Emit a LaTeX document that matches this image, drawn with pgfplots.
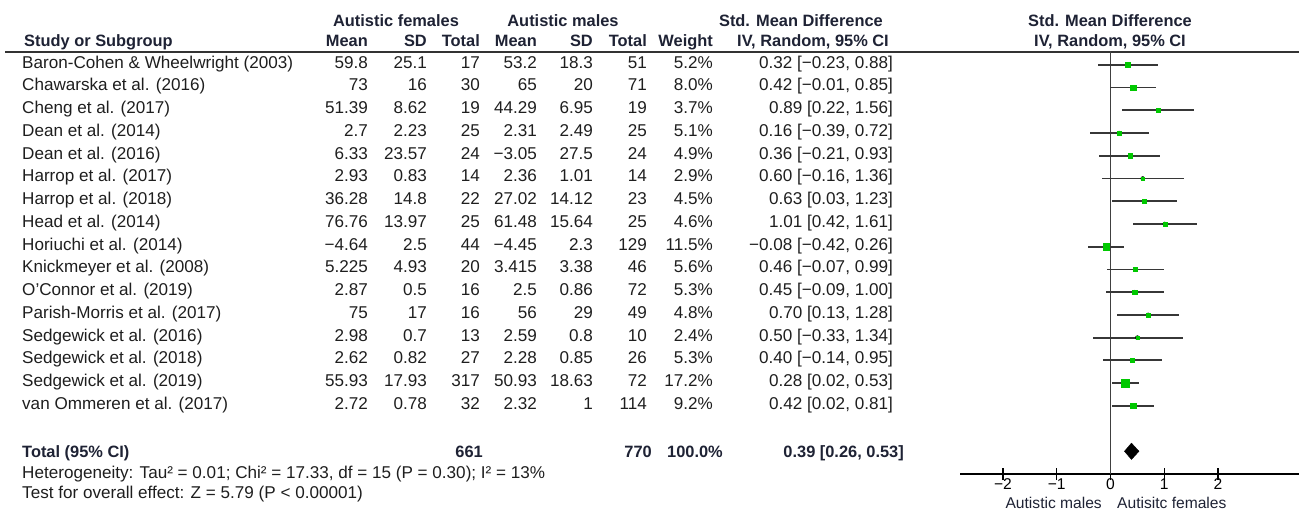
\documentclass[border=0pt]{standalone}
\usepackage{fontspec}
\setmainfont{Liberation Sans}
\usepackage{pgfplots}
\usepackage{pgfplotstable}
\pgfplotsset{compat=1.18}

\definecolor{smdgreen}{RGB}{0,200,0}
\definecolor{txt}{RGB}{30,30,30}
\definecolor{hdr}{RGB}{30,34,52}
\definecolor{cibar}{RGB}{55,55,55}

\newcommand{\fs}{\fontsize{17.1}{19}\selectfont}
\newcommand{\fb}{\fontsize{16.4}{19}\selectfont\bfseries}
\newcommand{\fsm}{\fontsize{15.6}{17}\selectfont}

% row: position from top, SMD, lower, upper, weight (%)
\pgfplotstableread{
row est lo hi w
1 0.32 -0.23 0.88 5.2
2 0.42 -0.01 0.85 8.0
3 0.89 0.22 1.56 3.7
4 0.16 -0.39 0.72 5.1
5 0.36 -0.21 0.93 4.9
6 0.60 -0.16 1.36 2.9
7 0.63 0.03 1.23 4.5
8 1.01 0.42 1.61 4.6
9 -0.08 -0.42 0.26 11.5
10 0.46 -0.07 0.99 5.6
11 0.45 -0.09 1.00 5.3
12 0.70 0.13 1.28 4.8
13 0.50 -0.33 1.34 2.4
14 0.40 -0.14 0.95 5.3
15 0.28 0.02 0.53 17.2
16 0.42 0.02 0.81 9.2
}\studies

\newcounter{rowc}
\newcommand{\studyrow}[9]{%
  \stepcounter{rowc}%
  \pgfmathsetmacro{\yy}{-(68+(\value{rowc}-1)*22.75)}%
  \node[anchor=base west] at (22pt,\yy pt) {#1};
  \node[anchor=base east] at (368pt,\yy pt) {#2};
  \node[anchor=base east] at (427pt,\yy pt) {#3};
  \node[anchor=base east] at (480pt,\yy pt) {#4};
  \node[anchor=base east] at (537pt,\yy pt) {#5};
  \node[anchor=base east] at (593pt,\yy pt) {#6};
  \node[anchor=base east] at (647pt,\yy pt) {#7};
  \node[anchor=base east] at (713pt,\yy pt) {#8};
  \node[anchor=base east] at (893pt,\yy pt) {#9};
}

\begin{document}
\begin{tikzpicture}[font=\fs, every node/.style={inner sep=0pt, text=txt}]
\path[use as bounding box] (0pt,0pt) rectangle (1299pt,-512pt);

% headers
\begin{scope}[every node/.append style={text=hdr, font=\fb}]
\node[anchor=base] at (396pt,-26pt) {Autistic females};
\node[anchor=base] at (563pt,-26pt) {Autistic males};
\node[anchor=base east] at (883pt,-26pt) {Std. Mean Difference};
\node[anchor=base] at (1110pt,-26pt) {Std. Mean Difference};
\node[anchor=base west] at (24pt,-46pt) {Study or Subgroup};
\node[anchor=base east] at (368pt,-46pt) {Mean};
\node[anchor=base east] at (427pt,-46pt) {SD};
\node[anchor=base east] at (480pt,-46pt) {Total};
\node[anchor=base east] at (537pt,-46pt) {Mean};
\node[anchor=base east] at (593pt,-46pt) {SD};
\node[anchor=base east] at (647pt,-46pt) {Total};
\node[anchor=base east] at (713pt,-46pt) {Weight};
\node[anchor=base east] at (889pt,-46pt) {IV, Random, 95\% CI};
\node[anchor=base] at (1110pt,-46pt) {IV, Random, 95\% CI};
\end{scope}
\draw[line width=1.6pt, black!80] (5pt,-52pt) -- (1299pt,-52pt);

\studyrow{Baron-Cohen \& Wheelwright (2003)}{59.8}{25.1}{17}{53.2}{18.3}{51}{5.2\%}{0.32 [−0.23, 0.88]}
\studyrow{Chawarska et al. (2016)}{73}{16}{30}{65}{20}{71}{8.0\%}{0.42 [−0.01, 0.85]}
\studyrow{Cheng et al. (2017)}{51.39}{8.62}{19}{44.29}{6.95}{19}{3.7\%}{0.89 [0.22, 1.56]}
\studyrow{Dean et al. (2014)}{2.7}{2.23}{25}{2.31}{2.49}{25}{5.1\%}{0.16 [−0.39, 0.72]}
\studyrow{Dean et al. (2016)}{6.33}{23.57}{24}{−3.05}{27.5}{24}{4.9\%}{0.36 [−0.21, 0.93]}
\studyrow{Harrop et al. (2017)}{2.93}{0.83}{14}{2.36}{1.01}{14}{2.9\%}{0.60 [−0.16, 1.36]}
\studyrow{Harrop et al. (2018)}{36.28}{14.8}{22}{27.02}{14.12}{23}{4.5\%}{0.63 [0.03, 1.23]}
\studyrow{Head et al. (2014)}{76.76}{13.97}{25}{61.48}{15.64}{25}{4.6\%}{1.01 [0.42, 1.61]}
\studyrow{Horiuchi et al. (2014)}{−4.64}{2.5}{44}{−4.45}{2.3}{129}{11.5\%}{−0.08 [−0.42, 0.26]}
\studyrow{Knickmeyer et al. (2008)}{5.225}{4.93}{20}{3.415}{3.38}{46}{5.6\%}{0.46 [−0.07, 0.99]}
\studyrow{O'Connor et al. (2019)}{2.87}{0.5}{16}{2.5}{0.86}{72}{5.3\%}{0.45 [−0.09, 1.00]}
\studyrow{Parish-Morris et al. (2017)}{75}{17}{16}{56}{29}{49}{4.8\%}{0.70 [0.13, 1.28]}
\studyrow{Sedgewick et al. (2016)}{2.98}{0.7}{13}{2.59}{0.8}{10}{2.4\%}{0.50 [−0.33, 1.34]}
\studyrow{Sedgewick et al. (2018)}{2.62}{0.82}{27}{2.28}{0.85}{26}{5.3\%}{0.40 [−0.14, 0.95]}
\studyrow{Sedgewick et al. (2019)}{55.93}{17.93}{317}{50.93}{18.63}{72}{17.2\%}{0.28 [0.02, 0.53]}
\studyrow{van Ommeren et al. (2017)}{2.72}{0.78}{32}{2.32}{1}{114}{9.2\%}{0.42 [0.02, 0.81]}

% total
\begin{scope}[every node/.append style={text=hdr, font=\fb}]
\node[anchor=base west] at (22pt,-457pt) {Total (95\% CI)};
\node[anchor=base east] at (483pt,-457pt) {661};
\node[anchor=base east] at (652pt,-457pt) {770};
\node[anchor=base east] at (723pt,-457pt) {100.0\%};
\node[anchor=base east] at (904pt,-457pt) {0.39 [0.26, 0.53]};
\end{scope}
\node[anchor=base west] at (22pt,-478pt) {Heterogeneity: Tau² = 0.01; Chi² = 17.33, df = 15 (P = 0.30); I² = 13\%};
\node[anchor=base west] at (22pt,-498pt) {Test for overall effect: Z = 5.79 (P < 0.00001)};

\node[anchor=base east, text=hdr, font=\fsm] at (1102pt,-508pt) {Autistic males};
\node[anchor=base west, text=hdr, font=\fsm] at (1117pt,-508pt) {Autisitc females};

\begin{axis}[
  at={(960pt,-474pt)}, anchor=south west,
  scale only axis, width=338.6pt, height=422.8pt,
  xmin=-2.8, xmax=3.5, ymin=-19, ymax=-0.4,
  axis x line*=bottom, axis y line=none,
  axis line style={line width=1.4pt, black},
  xtick={-2,-1,0,1,2}, xticklabels={−2,−1,0,1,2},
  tick align=center, major tick length=12pt,
  tick style={line width=1.2pt, black},
  xticklabel style={font=\fsm, text=black, inner sep=0.5pt, yshift=2pt},
  clip=false,
]
\draw[line width=1.4pt, black!75] (axis cs:0,-0.4) -- (axis cs:0,-19);
\addplot[only marks, mark=none, forget plot,
  error bars/.cd, x dir=both, x explicit, error mark=none,
  error bar style={draw=cibar, line width=1.8pt}]
  table[x=est, y expr=-\thisrow{row},
        x error plus expr=\thisrow{hi}-\thisrow{est},
        x error minus expr=\thisrow{est}-\thisrow{lo}] {\studies};
\addplot[scatter, only marks, mark=square*,
  scatter/use mapped color={draw=smdgreen, fill=smdgreen},
  visualization depends on={0.95*sqrt(\thisrow{w}) \as \msz},
  scatter/@pre marker code/.append style={/tikz/mark size=\msz pt, /tikz/line width=0.2pt}]
  table[x=est, y expr=-\thisrow{row}] {\studies};
\addplot[fill=black, draw=black] coordinates {(0.26,-18) (0.39,-17.64) (0.53,-18) (0.39,-18.36)} --cycle;
\end{axis}
\end{tikzpicture}
\end{document}
